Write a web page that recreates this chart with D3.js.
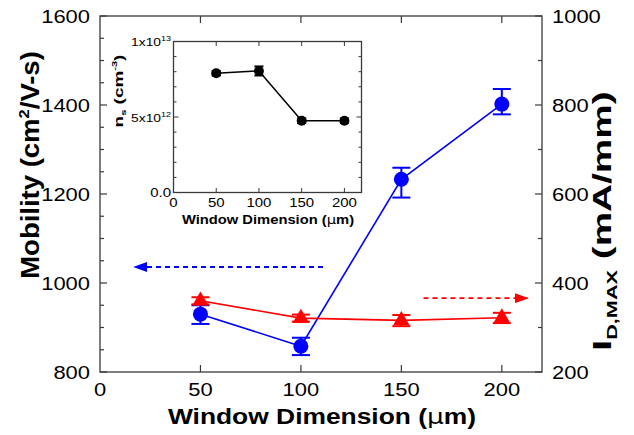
<!DOCTYPE html>
<html>
<head>
<meta charset="utf-8">
<script src="https://cdn.jsdelivr.net/npm/d3@7"></script>
<style>
  body { margin: 0; background: #fff; }
  text { font-family: "Liberation Sans", Arial, sans-serif; fill: #000; }
</style>
</head>
<body>
<div id="chart"></div>
<script>
// Data
let windowDim = [50, 100, 150, 200];
let mobility = [930, 858, 1233, 1402];
let mobilityLow = [908, 838, 1192, 1379];
let mobilityHigh = [950, 877, 1259, 1436];
let idMax = [360, 321, 316, 322];
let idMaxLow = [352, 313, 303, 310];
let idMaxHigh = [368, 329, 328, 333];
let ns = [7.9e12, 8.05e12, 4.75e12, 4.75e12];
let nsLow = [7.75e12, 7.75e12, 4.6e12, 4.6e12];
let nsHigh = [8.05e12, 8.35e12, 4.9e12, 4.9e12];

let xTicks = [0, 50, 100, 150, 200];
let leftTicks = [800, 1000, 1200, 1400, 1600];
let rightTicks = [200, 400, 600, 800, 1000];
let insetXTicks = [0, 50, 100, 150, 200];

let width = 634;
let height = 435;
let axisColor = '#3a3a3a';
let blue = '#0000ff';
let red = '#ff0000';

let svg = d3.select('#chart').append('svg')
    .attr('width', width)
    .attr('height', height);

// Main scales
let x = d3.scaleLinear().domain([0, 220]).range([100, 542]);
let yL = d3.scaleLinear().domain([800, 1600]).range([372, 16]);
let yR = d3.scaleLinear().domain([200, 1000]).range([372, 16]);

// Inset scales
let ix = d3.scaleLinear().domain([0, 220]).range([173.5, 361.5]);
let iy = d3.scaleLinear().domain([0, 1e13]).range([192.5, 41.5]);

// stretched text helper: the figure's fonts are wider than Arial
function label(g, str, px, py, opts) {
  let o = Object.assign({size: 18, weight: 'normal', anchor: 'middle', sx: 1.22, rot: 0}, opts);
  let t = g.append('text')
      .attr('transform', `translate(${px},${py}) rotate(${o.rot}) scale(${o.sx},1)`)
      .attr('text-anchor', o.anchor)
      .attr('font-size', o.size)
      .attr('font-weight', o.weight);
  if (str !== null) t.text(str);
  return t;
}

function drawFrame(g, xs, ys) {
  g.append('rect')
      .attr('x', xs.range()[0]).attr('y', ys.range()[1])
      .attr('width', xs.range()[1] - xs.range()[0])
      .attr('height', ys.range()[0] - ys.range()[1])
      .attr('fill', 'none').attr('stroke', axisColor).attr('stroke-width', 1.3);
}

// ---------- main frame and ticks ----------
let main = svg.append('g');
drawFrame(main, x, yL);

let tickG = main.append('g').attr('stroke', axisColor).attr('stroke-width', 1.2);
// bottom + top major ticks
xTicks.slice(1).forEach(v => {
  tickG.append('line').attr('x1', x(v)).attr('x2', x(v)).attr('y1', 372).attr('y2', 365);
  tickG.append('line').attr('x1', x(v)).attr('x2', x(v)).attr('y1', 16).attr('y2', 23);
});
// left ticks, minor every 50
d3.range(800, 1601, 50).forEach(v => {
  let len = v % 200 === 0 ? 7 : 4;
  tickG.append('line').attr('x1', 100).attr('x2', 100 + len).attr('y1', yL(v)).attr('y2', yL(v));
});
// right ticks, minor every 100
d3.range(200, 1001, 100).forEach(v => {
  let len = v % 200 === 0 ? 7 : 4;
  tickG.append('line').attr('x1', 542).attr('x2', 542 - len).attr('y1', yR(v)).attr('y2', yR(v));
});

// tick labels
xTicks.forEach(v => label(main, v, x(v), 396));
leftTicks.forEach(v => label(main, v, 90, yL(v) + 6.5, {anchor: 'end'}));
rightTicks.forEach(v => label(main, v, 552, yR(v) + 6.5, {anchor: 'start'}));

// axis titles
let xt = label(main, null, 322, 424, {size: 22, weight: 'bold', sx: 1.2});
xt.append('tspan').text('Window Dimension (');
xt.append('tspan').attr('font-family', '"DejaVu Sans", sans-serif').attr('font-weight', 'normal').text('\u03bc');
xt.append('tspan').text('m)');

let yt = label(main, null, 38.5, 165, {size: 25, weight: 'bold', rot: -90, sx: 1.1});
yt.append('tspan').text('Mobility (cm');
yt.append('tspan').attr('font-size', 15).attr('dy', -10).text('2');
yt.append('tspan').attr('dy', 10).text('/V-s)');

let rt = label(main, null, 611, 221, {size: 25, weight: 'bold', rot: -90, sx: 1.55});
rt.append('tspan').text('I');
rt.append('tspan').attr('font-size', 14).attr('dy', 6).text('D,MAX');
rt.append('tspan').attr('dy', -6).text(' (mA/mm)');

// ---------- arrows ----------
let defs = svg.append('defs');
[['arrBlue', blue], ['arrRed', red]].forEach(([id, c]) => {
  defs.append('marker').attr('id', id)
      .attr('viewBox', '0 0 14 10').attr('refX', 13).attr('refY', 5)
      .attr('markerWidth', 14).attr('markerHeight', 10)
      .attr('markerUnits', 'userSpaceOnUse').attr('orient', 'auto')
      .append('path').attr('d', 'M0,0 L14,5 L0,10 Z').attr('fill', c);
});
main.append('line')
    .attr('x1', x(111)).attr('x2', x(17)).attr('y1', yL(1036)).attr('y2', yL(1036))
    .attr('stroke', blue).attr('stroke-width', 1.8).attr('stroke-dasharray', '5,4')
    .attr('marker-end', 'url(#arrBlue)');
main.append('line')
    .attr('x1', x(161)).attr('x2', x(213)).attr('y1', yR(366)).attr('y2', yR(366))
    .attr('stroke', red).attr('stroke-width', 1.8).attr('stroke-dasharray', '5,4')
    .attr('marker-end', 'url(#arrRed)');

// ---------- series ----------
function drawSeries(g, xs, ys, vals, lows, highs, color, symbol, capW, lw) {
  let pts = windowDim.map((d, i) => [xs(d), ys(vals[i])]);
  g.append('path')
      .attr('d', d3.line()(pts))
      .attr('fill', 'none').attr('stroke', color).attr('stroke-width', lw);
  windowDim.forEach((d, i) => {
    let cx = xs(d);
    let eb = g.append('g').attr('stroke', color).attr('stroke-width', 2);
    eb.append('line').attr('x1', cx).attr('x2', cx).attr('y1', ys(lows[i])).attr('y2', ys(highs[i]));
    eb.append('line').attr('x1', cx - capW).attr('x2', cx + capW).attr('y1', ys(lows[i])).attr('y2', ys(lows[i]));
    eb.append('line').attr('x1', cx - capW).attr('x2', cx + capW).attr('y1', ys(highs[i])).attr('y2', ys(highs[i]));
    g.append('path')
        .attr('transform', `translate(${cx},${ys(vals[i])})`)
        .attr('d', symbol)
        .attr('fill', color);
  });
}

drawSeries(main, x, yL, mobility, mobilityLow, mobilityHigh, blue,
    d3.symbol(d3.symbolCircle, Math.PI * 7.5 * 7.5)(), 9, 1.6);
drawSeries(main, x, yR, idMax, idMaxLow, idMaxHigh, red,
    d3.symbol(d3.symbolTriangle, 115)(), 9, 1.6);

// ---------- inset ----------
let inset = svg.append('g');
inset.append('rect')
    .attr('x', 173.5).attr('y', 41.5).attr('width', 188).attr('height', 151)
    .attr('fill', '#fff');
drawFrame(inset, ix, iy);
let iTick = inset.append('g').attr('stroke', axisColor).attr('stroke-width', 1);
insetXTicks.slice(1).forEach(v => {
  iTick.append('line').attr('x1', ix(v)).attr('x2', ix(v)).attr('y1', 192.5).attr('y2', 188);
  iTick.append('line').attr('x1', ix(v)).attr('x2', ix(v)).attr('y1', 41.5).attr('y2', 46);
});
d3.range(0, 11).forEach(k => {
  let v = k * 1e12;
  let len = k % 5 === 0 ? 5 : 3;
  iTick.append('line').attr('x1', 173.5).attr('x2', 173.5 + len).attr('y1', iy(v)).attr('y2', iy(v));
  iTick.append('line').attr('x1', 361.5).attr('x2', 361.5 - len).attr('y1', iy(v)).attr('y2', iy(v));
});

insetXTicks.forEach(v => label(inset, v, ix(v), 207, {size: 12, sx: 1.25}));
label(inset, '0.0', 171, iy(0) + 4.5, {size: 12, sx: 1.25, anchor: 'end'});
[[5e12, '5x10', '12'], [1e13, '1x10', '13']].forEach(([v, base, ex]) => {
  let t = label(inset, null, 171, iy(v) + 4.5, {size: 11.5, sx: 1.2, anchor: 'end'});
  t.append('tspan').text(base);
  t.append('tspan').attr('font-size', 7.5).attr('dy', -5).text(ex);
});

let ixt = label(inset, null, 268, 224, {size: 12.5, weight: 'bold', sx: 1.18});
ixt.append('tspan').text('Window Dimension (');
ixt.append('tspan').attr('font-family', '"DejaVu Sans", sans-serif').attr('font-weight', 'normal').text('\u03bc');
ixt.append('tspan').text('m)');

let iyt = label(inset, null, 123, 91, {size: 13.5, weight: 'bold', rot: -90, sx: 1.4});
iyt.append('tspan').text('n');
iyt.append('tspan').attr('font-size', 8).attr('dy', 3).text('s');
iyt.append('tspan').attr('dy', -3).text(' (cm');
iyt.append('tspan').attr('font-size', 8).attr('dy', -6).text('-3');
iyt.append('tspan').attr('dy', 6).text(')');

drawSeries(inset, ix, iy, ns, nsLow, nsHigh, '#000',
    d3.symbol(d3.symbolCircle, Math.PI * 5 * 5)(), 4.5, 1.5);
</script>
</body>
</html>
